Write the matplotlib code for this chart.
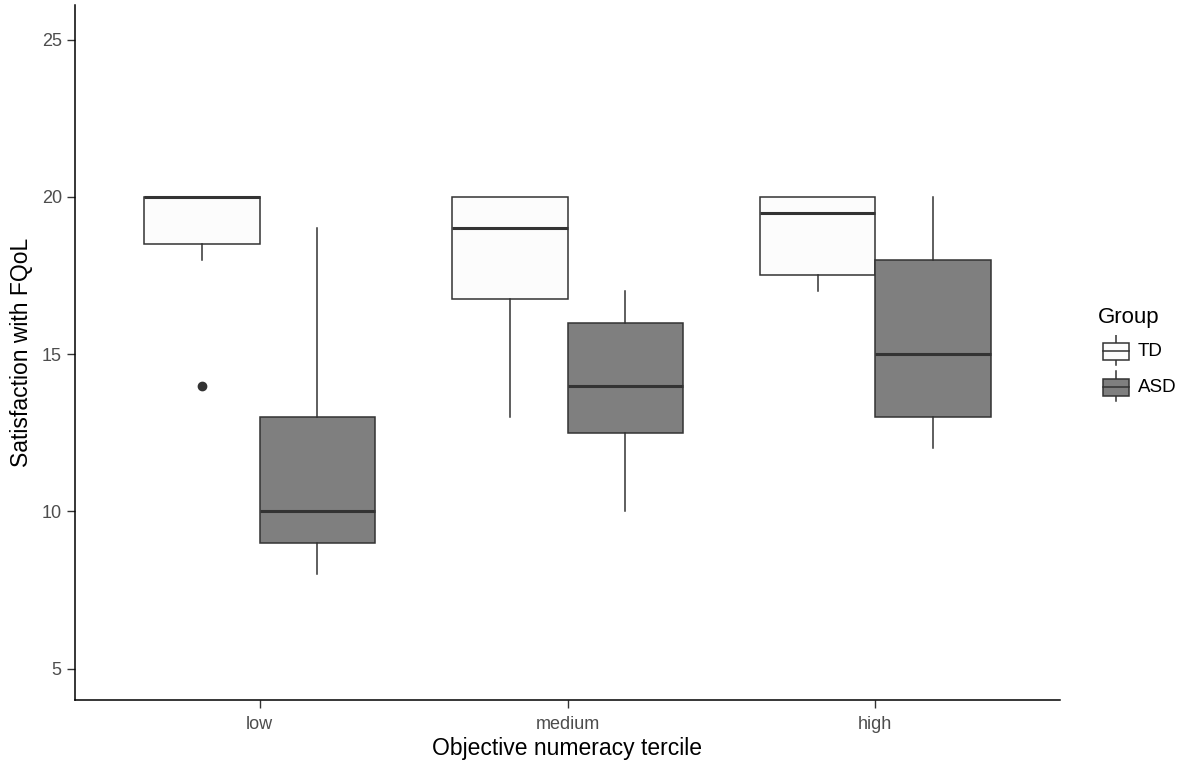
import matplotlib
matplotlib.use("Agg")
import matplotlib.pyplot as plt
from matplotlib.patches import Rectangle

plt.rcParams['font.family'] = ['Liberation Sans', 'DejaVu Sans']

categories = ["low", "medium", "high"]
groups = ["TD", "ASD"]
# per group: lists over categories
whislo = {"TD": [18, 13, 17], "ASD": [8, 10, 12]}
q1 = {"TD": [18.5, 16.75, 17.5], "ASD": [9, 12.5, 13]}
med = {"TD": [20, 19, 19.5], "ASD": [10, 14, 15]}
q3 = {"TD": [20, 20, 20], "ASD": [13, 16, 18]}
whishi = {"TD": [20, 20, 20], "ASD": [19, 17, 20]}
fliers = {"TD": [[14], [], []], "ASD": [[], [], []]}
fills = {"TD": "#FCFCFC", "ASD": "#7F7F7F"}
edge = "#333333"
yticks = [5, 10, 15, 20, 25]

W, H = 1182, 767
fig = plt.figure(figsize=(W/100, H/100), dpi=100)
ax = fig.add_axes([75/W, 67/H, (1060-75)/W, (700-5)/H])

width = 0.375
offsets = {"TD": -width/2, "ASD": width/2}
for g in groups:
    stats = []
    for i in range(len(categories)):
        stats.append(dict(whislo=whislo[g][i], q1=q1[g][i], med=med[g][i],
                          q3=q3[g][i], whishi=whishi[g][i], fliers=fliers[g][i]))
    pos = [i + 1 + offsets[g] for i in range(len(categories))]
    ax.bxp(stats, positions=pos, widths=width, patch_artist=True,
           showcaps=False, manage_ticks=False,
           boxprops=dict(facecolor=fills[g], edgecolor=edge, linewidth=1.1),
           medianprops=dict(color=edge, linewidth=2.2, solid_capstyle='butt'),
           whiskerprops=dict(color=edge, linewidth=1.1),
           flierprops=dict(marker='o', markerfacecolor=edge, markeredgecolor=edge,
                           markersize=6, linestyle='none'))

ax.set_xlim(0.4, 3.6)
ax.set_ylim(4, 26.1)
ax.set_xticks([1, 2, 3])
ax.set_xticklabels(categories)
ax.set_yticks(yticks)
for s in ["top", "right"]:
    ax.spines[s].set_visible(False)
for s in ["left", "bottom"]:
    ax.spines[s].set_color("black")
    ax.spines[s].set_linewidth(1.1)
ax.tick_params(axis='both', colors="#333333", labelcolor="#4D4D4D",
               labelsize=13, length=5.5, width=1.0)
ax.tick_params(axis='x', pad=6)
ax.tick_params(axis='y', pad=4)
ax.set_xlabel("Objective numeracy tercile", fontsize=16.5, color="black", labelpad=3)
ax.set_ylabel("Satisfaction with FQoL", fontsize=16.5, color="black", labelpad=6)

# legend
fig.text(1098/W, 1 - 317/H, "Group", fontsize=16, va='center', ha='left')
lax = fig.add_axes([1100/W, 1 - 405/H, 32/W, 70/H])
lax.set_xlim(0, 32)
lax.set_ylim(405, 335)
lax.axis('off')
for g, cy in zip(groups, [351, 387]):
    lax.plot([16, 16], [cy - 16, cy + 14], color=edge, lw=1.1)
    lax.add_patch(Rectangle((3, cy - 8.5), 26, 17, facecolor=fills[g],
                            edgecolor=edge, lw=1.1, zorder=2))
    lax.plot([3, 29], [cy, cy], color=edge, lw=1.1, zorder=3)
    fig.text(1138/W, 1 - (cy + 1)/H, g, fontsize=13.5, va='center', ha='left')

fig.savefig("out.png", dpi=100)
